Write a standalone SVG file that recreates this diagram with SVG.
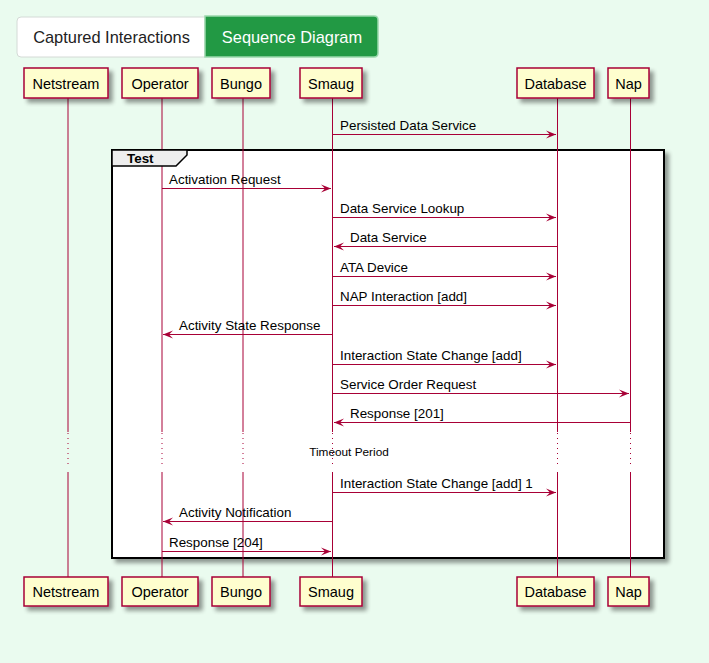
<svg xmlns="http://www.w3.org/2000/svg" width="709" height="663" viewBox="0 0 709 663">
<defs>
<style>
.part rect{fill:#FEFECE;stroke:#A80036;stroke-width:1.5;filter:url(#sh)}
.part text{font-family:"Liberation Sans",Arial,sans-serif;font-size:14.5px;fill:#000;text-anchor:middle}
.life{stroke:#A80036;stroke-width:1;fill:none}
.dot{stroke:#A80036;stroke-width:1;stroke-dasharray:1,4;fill:none}
.msg line{stroke:#A80036;stroke-width:1}
.msg text{font-family:"Liberation Sans",Arial,sans-serif;font-size:13.4px;fill:#000}
.msg text.delay{font-size:11.8px;text-anchor:middle}
.tab{font-family:"Liberation Sans",Arial,sans-serif;font-size:16.4px}
</style>
<filter id="sh" x="-20%" y="-20%" width="150%" height="160%">
<feGaussianBlur in="SourceAlpha" stdDeviation="2"/>
<feOffset dx="4" dy="4" result="b"/>
<feComponentTransfer><feFuncA type="linear" slope="0.4"/></feComponentTransfer>
<feMerge><feMergeNode/><feMergeNode in="SourceGraphic"/></feMerge>
</filter>
<marker id="ar" viewBox="0 0 11 10" refX="10" refY="5" markerWidth="11" markerHeight="10" markerUnits="userSpaceOnUse" orient="auto">
<path d="M0,1 L10,5 L0,9 L4,5 Z" fill="#A80036"/>
</marker>
</defs>
<rect x="0" y="0" width="709" height="663" fill="#EAFBEF"/>
<g id="tabs">
<path d="M21,17 H205 V57 H21 Q17,57 17,53 V21 Q17,17 21,17 Z" fill="#FFFFFF" stroke="#D4DAD6" stroke-width="1"/>
<text class="tab" x="111.5" y="43" text-anchor="middle" fill="#222">Captured Interactions</text>
<path d="M205,16 H374 Q378,16 378,20 V53 Q378,57 374,57 H205 Z" fill="#229944" stroke="#9AD8AC" stroke-width="1.5"/>
<text class="tab" x="292" y="43" text-anchor="middle" fill="#FFFFFF">Sequence Diagram</text>
</g>
<g id="frame">
<rect x="112" y="150" width="552" height="408" fill="#FFFFFF" stroke="#000" stroke-width="2" filter="url(#sh)"/>
</g>
<g id="lifelines">
<path class="life" d="M68,98 V432 M68,472 V577 M162,98 V432 M162,472 V577 M243,98 V432 M243,472 V577 M332.5,98 V432 M332.5,472 V577 M557.5,98 V432 M557.5,472 V577 M630.5,98 V432 M630.5,472 V577"/>
<path class="dot" d="M68,433 V467 M162,433 V467 M243,433 V467 M332.5,433 V467 M557.5,433 V467 M630.5,433 V467"/>
</g>
<g id="frame-tab">
<polygon points="112,150 187,150 187,155 176,166 112,166" fill="#EEEEEE" stroke="#000" stroke-width="1.5"/>
<text x="127" y="163" font-family="'Liberation Sans',Arial,sans-serif" font-size="13.4" font-weight="bold">Test</text>
</g>
<g id="p-netstream" class="part"><rect x="24" y="68" width="84" height="30"/><text x="66" y="89">Netstream</text></g>
<g id="p-operator" class="part"><rect x="122" y="68" width="76" height="30"/><text x="160" y="89">Operator</text></g>
<g id="p-bungo" class="part"><rect x="212" y="68" width="58" height="30"/><text x="241" y="89">Bungo</text></g>
<g id="p-smaug" class="part"><rect x="300" y="68" width="62" height="30"/><text x="331" y="89">Smaug</text></g>
<g id="p-database" class="part"><rect x="517" y="68" width="77" height="30"/><text x="555.5" y="89">Database</text></g>
<g id="p-nap" class="part"><rect x="608" y="68" width="41" height="30"/><text x="628.5" y="89">Nap</text></g>
<g id="p-netstream-b" class="part"><rect x="24" y="577" width="84" height="29"/><text x="66" y="597">Netstream</text></g>
<g id="p-operator-b" class="part"><rect x="122" y="577" width="76" height="29"/><text x="160" y="597">Operator</text></g>
<g id="p-bungo-b" class="part"><rect x="212" y="577" width="58" height="29"/><text x="241" y="597">Bungo</text></g>
<g id="p-smaug-b" class="part"><rect x="300" y="577" width="62" height="29"/><text x="331" y="597">Smaug</text></g>
<g id="p-database-b" class="part"><rect x="517" y="577" width="77" height="29"/><text x="555.5" y="597">Database</text></g>
<g id="p-nap-b" class="part"><rect x="608" y="577" width="41" height="29"/><text x="628.5" y="597">Nap</text></g>
<g id="connectors" class="msg">
<line x1="333" y1="134.5" x2="556" y2="134.5" marker-end="url(#ar)"/><text x="340" y="130">Persisted Data Service</text>
<line x1="162" y1="188.5" x2="331" y2="188.5" marker-end="url(#ar)"/><text x="169" y="184">Activation Request</text>
<line x1="333" y1="217.5" x2="556" y2="217.5" marker-end="url(#ar)"/><text x="340" y="213">Data Service Lookup</text>
<line x1="557" y1="246.5" x2="334" y2="246.5" marker-end="url(#ar)"/><text x="350" y="242">Data Service</text>
<line x1="333" y1="276.5" x2="556" y2="276.5" marker-end="url(#ar)"/><text x="340" y="272">ATA Device</text>
<line x1="333" y1="305.5" x2="556" y2="305.5" marker-end="url(#ar)"/><text x="340" y="301">NAP Interaction [add]</text>
<line x1="332" y1="334.5" x2="163" y2="334.5" marker-end="url(#ar)"/><text x="179" y="330">Activity State Response</text>
<line x1="333" y1="364.5" x2="556" y2="364.5" marker-end="url(#ar)"/><text x="340" y="360">Interaction State Change [add]</text>
<line x1="333" y1="393.5" x2="629" y2="393.5" marker-end="url(#ar)"/><text x="340" y="389">Service Order Request</text>
<line x1="630" y1="422.5" x2="334" y2="422.5" marker-end="url(#ar)"/><text x="350" y="418">Response [201]</text>
<text class="delay" x="349" y="456">Timeout Period</text>
<line x1="333" y1="492.5" x2="556" y2="492.5" marker-end="url(#ar)"/><text x="340" y="488">Interaction State Change [add] 1</text>
<line x1="332" y1="521.5" x2="163" y2="521.5" marker-end="url(#ar)"/><text x="179" y="517">Activity Notification</text>
<line x1="162" y1="551.5" x2="331" y2="551.5" marker-end="url(#ar)"/><text x="169" y="547">Response [204]</text>
</g>
</svg>
